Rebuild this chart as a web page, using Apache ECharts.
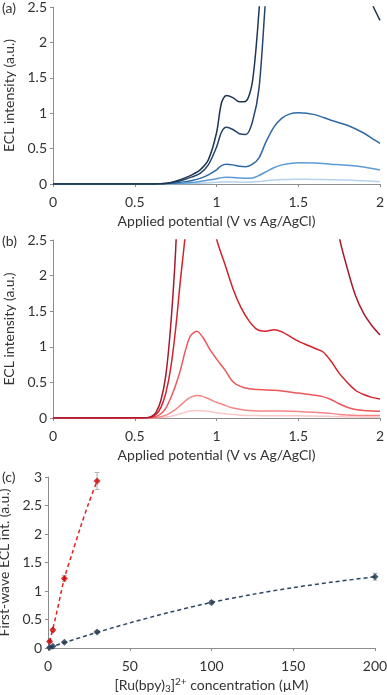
<!DOCTYPE html>
<html lang="en">
<head>
  <meta charset="UTF-8">
  <title>ECL</title>
  <style>
    html, body { margin: 0; padding: 0; background: #fff; }
    #chart { width: 387px; height: 695px; }
  </style>
</head>
<body>
<div id="chart"></div>
<script src="https://cdn.jsdelivr.net/npm/echarts@6/dist/echarts.min.js"></script>
<script>
// panel (a): potentials and blue curves
const potA = [0, 0.6, 0.65, 0.7, 0.75, 0.8, 0.85, 0.9, 0.95, 1.0, 1.03, 1.06, 1.1, 1.14, 1.18, 1.22, 1.26, 1.3, 1.35, 1.4, 1.45, 1.5, 1.6, 1.7, 1.8, 1.9, 1.96, 2.0];
const a1 = [0, 0, 0.003, 0.012, 0.04, 0.08, 0.13, 0.2, 0.34, 0.72, 1.14, 1.25, 1.22, 1.16, 1.17, 1.45, 2.45, 4, 5, 5, 5, 5, 5, 4.5, 3.4, 2.8, 2.5, 2.31];
const a2 = [0, 0, 0.003, 0.01, 0.03, 0.06, 0.1, 0.15, 0.27, 0.52, 0.73, 0.8, 0.77, 0.71, 0.7, 0.88, 1.35, 2.6, 4, 4, 4, 4, 4, 4, 4, 4, 4, 4];
const a3 = [0, 0, 0.002, 0.006, 0.015, 0.03, 0.05, 0.08, 0.13, 0.2, 0.26, 0.28, 0.27, 0.25, 0.245, 0.28, 0.37, 0.58, 0.8, 0.93, 0.99, 1.005, 0.98, 0.9, 0.83, 0.72, 0.63, 0.575];
const a4 = [0, 0, 0.001, 0.003, 0.006, 0.012, 0.02, 0.035, 0.055, 0.075, 0.09, 0.095, 0.092, 0.085, 0.08, 0.085, 0.12, 0.17, 0.23, 0.27, 0.29, 0.3, 0.295, 0.28, 0.265, 0.24, 0.215, 0.198];
const a5 = [0, 0, 0, 0.001, 0.002, 0.004, 0.007, 0.012, 0.018, 0.024, 0.028, 0.03, 0.029, 0.027, 0.026, 0.028, 0.035, 0.045, 0.055, 0.062, 0.065, 0.066, 0.064, 0.06, 0.055, 0.045, 0.038, 0.033];

// panel (b): potentials and red curves
const potB = [0, 0.55, 0.6, 0.63, 0.66, 0.69, 0.72, 0.75, 0.78, 0.81, 0.84, 0.88, 0.92, 0.96, 1.0, 1.05, 1.1, 1.15, 1.2, 1.25, 1.3, 1.35, 1.4, 1.5, 1.6, 1.65, 1.7, 1.75, 1.8, 1.85, 1.9, 1.95, 2.0];
const b1 = [0, 0.002, 0.02, 0.08, 0.25, 0.6, 1.3, 2.35, 4, 6, 6, 6, 6, 6, 6, 6, 6, 6, 6, 6, 6, 6, 6, 6, 5, 4.2, 3.3, 2.55, 2.1, 1.72, 1.47, 1.3, 1.167];
const b2 = [0, 0.001, 0.012, 0.05, 0.15, 0.35, 0.7, 1.25, 1.95, 2.6, 3.5, 4, 3.8, 3.1, 2.52, 2.17, 1.82, 1.55, 1.36, 1.24, 1.22, 1.24, 1.21, 1.08, 0.98, 0.93, 0.8, 0.63, 0.5, 0.39, 0.33, 0.29, 0.267];
const b3 = [0, 0, 0.005, 0.02, 0.06, 0.14, 0.28, 0.46, 0.68, 0.95, 1.15, 1.22, 1.12, 0.96, 0.83, 0.68, 0.51, 0.44, 0.41, 0.4, 0.395, 0.39, 0.38, 0.35, 0.32, 0.3, 0.26, 0.2, 0.15, 0.12, 0.105, 0.097, 0.094];
const b4 = [0, 0, 0.002, 0.006, 0.018, 0.04, 0.075, 0.12, 0.18, 0.24, 0.29, 0.315, 0.3, 0.26, 0.22, 0.18, 0.14, 0.12, 0.105, 0.1, 0.1, 0.1, 0.098, 0.09, 0.08, 0.075, 0.065, 0.05, 0.042, 0.038, 0.036, 0.035, 0.034];
const b5 = [0, 0, 0.001, 0.002, 0.006, 0.013, 0.025, 0.04, 0.06, 0.08, 0.097, 0.104, 0.1, 0.09, 0.075, 0.06, 0.048, 0.04, 0.036, 0.034, 0.033, 0.033, 0.032, 0.03, 0.027, 0.025, 0.022, 0.018, 0.015, 0.013, 0.012, 0.012, 0.011];

// panel (c): first-wave intensity vs concentration
const concRed = [1, 3, 10, 30];
const ecRed = [0.115, 0.315, 1.22, 2.93];
const errRed = [0.02, 0.03, 0.05, 0.15];
const concBlue = [1, 3, 10, 30, 100, 200];
const ecBlue = [0.01, 0.03, 0.1, 0.28, 0.8, 1.25];
const errBlue = [0.005, 0.005, 0.01, 0.02, 0.03, 0.06];
// dashed fit curves
const fitRedX = [1, 5, 10, 15, 20, 25, 30];
const fitRedY = [0.11, 0.58, 1.22, 1.68, 2.13, 2.55, 2.93];
const fitBlueX = [1, 25, 50, 75, 100, 125, 150, 175, 200];
const fitBlueY = [0.01, 0.23, 0.44, 0.63, 0.8, 0.94, 1.06, 1.16, 1.25];

const blues = ['#1f3550', '#24456c', '#2f6aa6', '#5b9bd5', '#b7d2ee'];
const reds = ['#a31b2e', '#d2222b', '#ef5659', '#f68585', '#fbc8c8'];

const FONT = 'Lato';
const FS = 14;
const axisGrey = '#8c8c8c';
const txt = '#333';

const pairs = (xs, ys) => xs.map((x, i) => [x, ys[i]]);

function xAx(gi, max, interval, name, gap) {
  return {
    type: 'value', gridIndex: gi, min: 0, max: max, interval: interval,
    name: name, nameLocation: 'middle', nameGap: gap,
    nameTextStyle: { fontFamily: FONT, fontSize: FS, color: txt },
    axisLine: { show: true, lineStyle: { color: axisGrey, width: 1 } },
    axisTick: { show: true, length: 3, lineStyle: { color: axisGrey } },
    axisLabel: { fontFamily: FONT, fontSize: FS, color: txt, margin: 11 },
    splitLine: { show: false }
  };
}
function yAx(gi, max, name, gap) {
  return {
    type: 'value', gridIndex: gi, min: 0, max: max, interval: 0.5,
    name: name, nameLocation: 'middle', nameGap: gap, nameRotate: 90,
    nameTextStyle: { fontFamily: FONT, fontSize: FS, color: txt },
    axisLine: { show: true, lineStyle: { color: axisGrey, width: 1 } },
    axisTick: { show: true, length: 3, lineStyle: { color: axisGrey } },
    axisLabel: { fontFamily: FONT, fontSize: FS, color: txt, margin: 6 },
    splitLine: { show: false }
  };
}

function curve(gi, xs, ys, color) {
  return {
    type: 'line', xAxisIndex: gi, yAxisIndex: gi, data: pairs(xs, ys),
    showSymbol: false, symbol: 'none', smooth: 0.3, clip: true,
    lineStyle: { color: color, width: 1.5 }, silent: true
  };
}

function errBars(xs, ys, es) {
  return {
    type: 'custom', xAxisIndex: 2, yAxisIndex: 2, silent: true, z: 1,
    data: xs.map((x, i) => [x, ys[i] - es[i], ys[i] + es[i]]),
    renderItem: function (params, api) {
      const lo = api.coord([api.value(0), api.value(1)]);
      const hi = api.coord([api.value(0), api.value(2)]);
      const st = { stroke: '#b0b0b0', lineWidth: 1 };
      return {
        type: 'group', children: [
          { type: 'line', shape: { x1: lo[0], y1: lo[1], x2: hi[0], y2: hi[1] }, style: st },
          { type: 'line', shape: { x1: lo[0] - 2.5, y1: lo[1], x2: lo[0] + 2.5, y2: lo[1] }, style: st },
          { type: 'line', shape: { x1: hi[0] - 2.5, y1: hi[1], x2: hi[0] + 2.5, y2: hi[1] }, style: st }
        ]
      };
    }
  };
}

function fitLine(xs, ys, color) {
  return {
    type: 'line', xAxisIndex: 2, yAxisIndex: 2, data: pairs(xs, ys),
    smooth: 0.3, symbol: 'none', showSymbol: false, silent: true, z: 2,
    lineStyle: { color: color, width: 1.5, type: [4, 3] }
  };
}

function points(xs, ys, mark) {
  return {
    type: 'scatter', xAxisIndex: 2, yAxisIndex: 2, data: pairs(xs, ys),
    symbol: 'diamond', symbolSize: 7, silent: true, z: 3,
    itemStyle: { color: mark }
  };
}

const chart = echarts.init(document.getElementById('chart'));
chart.setOption({
  animation: false,
  backgroundColor: '#fff',
  grid: [
    { left: 53, top: 7, width: 327, height: 177, outerBoundsMode: 'none', containLabel: false },
    { left: 53, top: 240, width: 327, height: 178, outerBoundsMode: 'none', containLabel: false },
    { left: 48, top: 477, width: 327, height: 171, outerBoundsMode: 'none', containLabel: false }
  ],
  xAxis: [
    xAx(0, 2, 0.5, 'Applied potential (V vs Ag/AgCl)', 30),
    xAx(1, 2, 0.5, 'Applied potential (V vs Ag/AgCl)', 30),
    Object.assign(xAx(2, 200, 50, '{n|[Ru(bpy)}{sub|3}{n|]}{sup|2+}{n| concentration (\u00b5M)}', 28), {
      nameTextStyle: {
        fontFamily: FONT, fontSize: FS, color: txt,
        rich: {
          n: { fontFamily: FONT, fontSize: FS, color: txt },
          sub: { fontFamily: FONT, fontSize: 10, color: txt, padding: [8, 0, 0, 0] },
          sup: { fontFamily: FONT, fontSize: 10, color: txt, padding: [0, 0, 7, 0] }
        }
      }
    })
  ],
  yAxis: [
    yAx(0, 2.5, 'ECL intensity (a.u.)', 35),
    yAx(1, 2.5, 'ECL intensity (a.u.)', 35),
    yAx(2, 3, 'First-wave ECL int. (a.u.)', 30)
  ],
  graphic: [
    { type: 'text', left: 2, top: 1, style: { text: '(a)', font: '14px Lato', fill: txt } },
    { type: 'text', left: 2, top: 234, style: { text: '(b)', font: '14px Lato', fill: txt } },
    { type: 'text', left: 2, top: 470, style: { text: '(c)', font: '14px Lato', fill: txt } }
  ],
  series: [
    curve(0, potA, a5, blues[4]),
    curve(0, potA, a4, blues[3]),
    curve(0, potA, a3, blues[2]),
    curve(0, potA, a2, blues[1]),
    curve(0, potA, a1, blues[0]),
    curve(1, potB, b5, reds[4]),
    curve(1, potB, b4, reds[3]),
    curve(1, potB, b3, reds[2]),
    curve(1, potB, b2, reds[1]),
    curve(1, potB, b1, reds[0]),
    errBars(concBlue, ecBlue, errBlue),
    errBars(concRed, ecRed, errRed),
    fitLine(fitBlueX, fitBlueY, '#2d4664'),
    fitLine(fitRedX, fitRedY, '#e02424'),
    points(concBlue, ecBlue, '#1f3550'),
    points(concRed, ecRed, '#cc0000')
  ]
});
window.addEventListener('resize', () => {
  chart.resize();
});
</script>
</body>
</html>
